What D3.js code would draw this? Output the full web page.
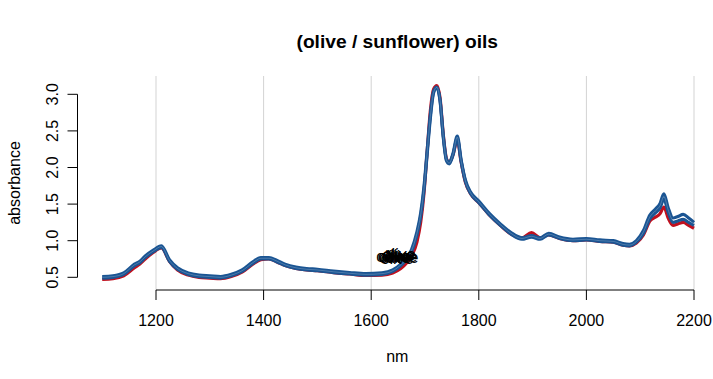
<!DOCTYPE html>
<html>
<head>
<meta charset="utf-8">
<script src="https://cdn.jsdelivr.net/npm/d3@7"></script>
<style>
  html, body { margin: 0; padding: 0; background: #fff; }
  svg { display: block; }
  text { font-family: "Liberation Sans", Arial, sans-serif; fill: #000; }
</style>
</head>
<body>
<svg id="chart" width="713" height="379"></svg>
<script>
// ---- data ----
const wavelengths = [1100,1120,1140,1160,1170,1180,1195,1210,1225,1240,1260,1280,1300,1320,1340,1360,1380,1395,1410,1425,1440,1460,1480,1500,1530,1560,1590,1620,1640,1655,1665,1675,1685,1692,1698,1704,1710,1716,1722,1728,1734,1740,1745,1752,1760,1767,1775,1785,1800,1820,1840,1860,1880,1898,1914,1930,1950,1975,2000,2025,2050,2068,2080,2093,2106,2118,2128,2137,2144,2152,2161,2170,2180,2190,2200];

const sunflowerUpper = [0.51,0.52,0.56,0.68,0.72,0.79,0.87,0.93,0.74,0.63,0.56,0.53,0.52,0.51,0.54,0.60,0.71,0.77,0.77,0.73,0.68,0.64,0.62,0.61,0.585,0.565,0.55,0.56,0.60,0.68,0.76,0.88,1.12,1.38,1.73,2.23,2.72,3.04,3.10,2.92,2.43,2.11,2.07,2.19,2.43,2.11,1.83,1.66,1.54,1.37,1.23,1.11,1.04,1.07,1.04,1.10,1.05,1.02,1.03,1.01,1.00,0.96,0.95,1.00,1.14,1.35,1.43,1.51,1.64,1.45,1.31,1.33,1.36,1.31,1.25];

const sunflowerLower = [0.49,0.50,0.54,0.66,0.70,0.77,0.85,0.91,0.72,0.61,0.54,0.51,0.50,0.49,0.52,0.58,0.69,0.75,0.75,0.71,0.66,0.62,0.60,0.59,0.565,0.545,0.53,0.54,0.58,0.66,0.74,0.85,1.08,1.33,1.68,2.18,2.68,3.02,3.09,2.91,2.41,2.09,2.05,2.17,2.40,2.09,1.81,1.64,1.52,1.35,1.21,1.09,1.02,1.05,1.02,1.08,1.03,1.00,1.01,0.99,0.98,0.94,0.93,0.98,1.10,1.30,1.38,1.45,1.57,1.39,1.25,1.27,1.29,1.25,1.21];

const oliveSpectrum = [0.47,0.48,0.52,0.63,0.68,0.75,0.84,0.90,0.72,0.60,0.53,0.50,0.49,0.48,0.51,0.57,0.68,0.74,0.75,0.71,0.66,0.62,0.60,0.59,0.565,0.545,0.525,0.53,0.56,0.62,0.69,0.79,0.98,1.25,1.64,2.22,2.78,3.07,3.12,2.95,2.45,2.12,2.07,2.17,2.38,2.08,1.80,1.64,1.52,1.35,1.21,1.09,1.04,1.11,1.04,1.08,1.03,1.00,1.01,0.99,0.98,0.94,0.93,0.97,1.08,1.27,1.32,1.37,1.46,1.31,1.21,1.23,1.25,1.21,1.17];

const labelText = "olive";
const labelNm  = [1640, 1645, 1650, 1655, 1648, 1652, 1643, 1657];
const labelAbs = [0.79, 0.77, 0.80, 0.78, 0.76, 0.81, 0.78, 0.77];

const xTicks = [1200, 1400, 1600, 1800, 2000, 2200];
const yTicks = [0.5, 1.0, 1.5, 2.0, 2.5, 3.0];

const titleText = "(olive / sunflower) oils";
const xLabel = "nm";
const yLabel = "absorbance";

// ---- layout ----
const plotLeft = 77.5, plotTop = 76, plotBottom = 290;
const x = d3.scaleLinear().domain([1200, 2200]).range([156, 694]);
const y = d3.scaleLinear().domain([0.5, 3.0]).range([277.3, 94.3]);

const svg = d3.select("#chart");

// grid lines (vertical, at x ticks)
svg.append("g").selectAll("line").data(xTicks).join("line")
  .attr("x1", d => x(d)).attr("x2", d => x(d))
  .attr("y1", plotTop).attr("y2", plotBottom)
  .attr("stroke", "#d3d3d3").attr("stroke-width", 1);

// spectra
const line = d3.line()
  .x((d, i) => x(wavelengths[i]))
  .y(d => y(d))
  .curve(d3.curveMonotoneX);

const series = [
  { values: oliveSpectrum, color: "#c0101e" },
  { values: sunflowerLower, color: "#1b5593" },
  { values: sunflowerUpper, color: "#1b5593" }
];
svg.append("g").selectAll("path").data(series).join("path")
  .attr("d", d => line(d.values))
  .attr("fill", "none")
  .attr("stroke", d => d.color)
  .attr("stroke-width", 3.2)
  .attr("stroke-linejoin", "round");

// faint white hairline between overlapping spectra
svg.append("path")
  .attr("d", line(sunflowerLower.map((v, i) => (v + sunflowerUpper[i]) / 2)))
  .attr("fill", "none").attr("stroke", "#ffffff").attr("stroke-width", 0.5).attr("opacity", 0.45);

// overlapping labels
svg.append("g").selectAll("text").data(labelNm).join("text")
  .attr("x", (d, i) => x(d))
  .attr("y", (d, i) => y(labelAbs[i]))
  .attr("text-anchor", "middle")
  .attr("dominant-baseline", "central")
  .attr("font-size", 16)
  .text(labelText);

// x axis
const gx = svg.append("g");
gx.append("line").attr("x1", x(xTicks[0])).attr("x2", x(xTicks[xTicks.length - 1]))
  .attr("y1", plotBottom).attr("y2", plotBottom).attr("stroke", "#000");
gx.selectAll("line.tick").data(xTicks).join("line").attr("class", "tick")
  .attr("x1", d => x(d)).attr("x2", d => x(d))
  .attr("y1", plotBottom).attr("y2", plotBottom + 10).attr("stroke", "#000");
gx.selectAll("text").data(xTicks).join("text")
  .attr("x", d => x(d)).attr("y", plotBottom + 36)
  .attr("text-anchor", "middle").attr("font-size", 16)
  .text(d => d);

// y axis
const gy = svg.append("g");
gy.append("line").attr("x1", plotLeft).attr("x2", plotLeft)
  .attr("y1", y(yTicks[0])).attr("y2", y(yTicks[yTicks.length - 1])).attr("stroke", "#000");
gy.selectAll("line.tick").data(yTicks).join("line").attr("class", "tick")
  .attr("x1", plotLeft).attr("x2", plotLeft - 10)
  .attr("y1", d => y(d)).attr("y2", d => y(d)).attr("stroke", "#000");
gy.selectAll("text").data(yTicks).join("text")
  .attr("transform", d => `translate(${plotLeft - 20},${y(d)}) rotate(-90)`)
  .attr("text-anchor", "middle").attr("font-size", 16)
  .text(d => d.toFixed(1));

// titles
svg.append("text").attr("x", (plotLeft + 717) / 2).attr("y", 48)
  .attr("text-anchor", "middle").attr("font-size", 19.2).attr("font-weight", "bold")
  .text(titleText);
svg.append("text").attr("x", (plotLeft + 717) / 2).attr("y", 362)
  .attr("text-anchor", "middle").attr("font-size", 16).text(xLabel);
svg.append("text").attr("transform", `translate(19.5,${(plotTop + plotBottom) / 2}) rotate(-90)`)
  .attr("text-anchor", "middle").attr("font-size", 16).text(yLabel);
</script>
</body>
</html>
